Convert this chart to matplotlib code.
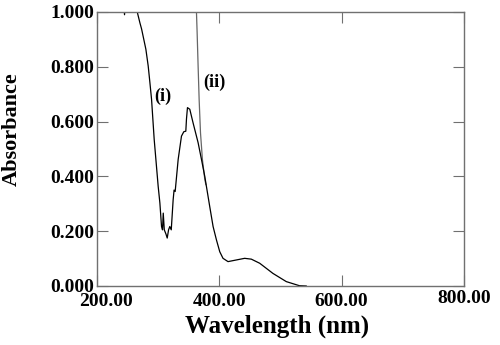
import matplotlib
matplotlib.use("Agg")
import matplotlib.pyplot as plt
import matplotlib.transforms as mtransforms

# Curve (i)
wl_i = [243, 245, 247, 262, 265.8, 270.2, 272.9, 279.9, 283.7, 286.5, 289.2, 293.5,
        300, 302.8, 305.5, 307.1, 308.3, 310, 312.7, 314.8, 317, 319, 321.4, 324.5,
        326, 327.8, 332.7, 338.1, 341.9, 345.2, 346.3, 347.9, 351.7, 357, 365.3,
        370.8, 376.2, 384.3, 389.8, 395.3, 400.7, 406, 414.2, 427.8, 441.4, 452.3,
        466, 487.6, 509.5, 531, 542]
abs_i = [1.05, 0.99, 1.05, 1.05, 1.0, 0.96, 0.938, 0.864, 0.803, 0.742, 0.681, 0.535,
         0.364, 0.303, 0.217, 0.205, 0.266, 0.205, 0.19, 0.175, 0.205, 0.217, 0.205, 0.315,
         0.35, 0.345, 0.462, 0.547, 0.563, 0.565, 0.61, 0.651, 0.645, 0.596, 0.523,
         0.462, 0.40, 0.29, 0.217, 0.168, 0.125, 0.101, 0.089, 0.095, 0.101, 0.098,
         0.083, 0.046, 0.016, 0.001, 0.0]

# Curve (ii)
wl_ii = [362.0, 362.6, 363.7, 365.3, 367.0, 369.2, 372.4, 376.2, 378.0]
abs_ii = [1.05, 1.0, 0.925, 0.803, 0.68, 0.559, 0.46, 0.39, 0.37]

xticks = [200, 400, 600, 800]
xtick_labels = ["200.00", "400.00", "600.00", "800.00"]
yticks = [0.0, 0.2, 0.4, 0.6, 0.8, 1.0]
ytick_labels = ["0.000", "0.200", "0.400", "0.600", "0.800", "1.000"]

plt.rcParams['font.family'] = ['Liberation Serif', 'DejaVu Serif']
plt.rcParams['font.weight'] = 'bold'

fig = plt.figure(figsize=(5, 3.45), dpi=100)
ax = fig.add_axes([97/500, (345-286)/345, (464-97)/500, (286-12)/345])

ax.plot(wl_ii, abs_ii, color='#666666', lw=0.9)
ax.plot(wl_i, abs_i, color='black', lw=0.9)

ax.set_xlim(200, 800)
ax.set_ylim(0, 1.0)
ax.set_xticks(xticks)
ax.set_xticklabels(xtick_labels, fontsize=14, fontweight='bold')
ax.set_yticks(yticks)
ax.set_yticklabels(ytick_labels, fontsize=14, fontweight='bold')

ax.tick_params(direction='in', length=8, width=0.8, color='#707070',
               top=True, right=True, pad=2)
ax.tick_params(axis='x', pad=5)
for s in ax.spines.values():
    s.set_color('#707070')
    s.set_linewidth(1.0)

# shift first x label right, last up
lbls = ax.get_xticklabels()
lbls[0].set_transform(lbls[0].get_transform() +
                      mtransforms.ScaledTranslation(9/100, 0, fig.dpi_scale_trans))
lbls[-1].set_transform(lbls[-1].get_transform() +
                       mtransforms.ScaledTranslation(0, 3/100, fig.dpi_scale_trans))

ax.set_xlabel("Wavelength (nm)", fontsize=18, fontweight='bold', labelpad=4)
ax.xaxis.set_label_coords(0.49, -0.105)
ax.xaxis.label.set_va('top')
ax.set_ylabel("Absorbance", fontsize=16, fontweight='bold')
ax.yaxis.set_label_coords(-0.205, 0.573)

ax.text(307.7, 0.692, "(i)", fontsize=13, fontweight='bold', ha='center', va='center')
ax.text(392.5, 0.744, "(ii)", fontsize=13, fontweight='bold', ha='center', va='center')

fig.savefig("out.png", dpi=100)
